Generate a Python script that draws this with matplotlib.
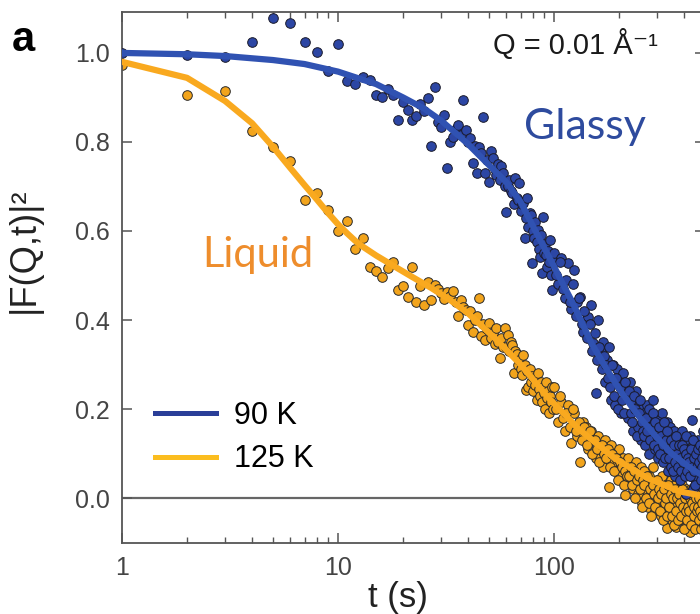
import numpy as np
import matplotlib
matplotlib.use("Agg")
from matplotlib import pyplot as plt
from matplotlib.lines import Line2D

plt.rcParams['font.family'] = ['Liberation Sans', 'DejaVu Sans']
plt.rcParams['mathtext.default'] = 'regular'

# 90 K (glassy) correlation points: t = 1..99 s, then two interleaved 4 s grids
blue_t = list(range(1, 100)) + list(range(100, 500, 4)) + list(range(102, 500, 4))
blue_v = [
    1.00, 0.995, 0.99, 1.025, 1.079, 1.067, 1.025, 1.002, 0.96, 1.02,
    0.937, 0.93, 0.945, 0.94, 0.906, 0.90, 0.92, 0.905, 0.85, 0.89,
    0.872, 0.849, 0.858, 0.885, 0.87, 0.899, 0.79, 0.924, 0.845, 0.834,
    0.86, 0.742, 0.80, 0.811, 0.83, 0.838, 0.815, 0.894, 0.827, 0.80,
    0.809, 0.753, 0.79, 0.73, 0.789, 0.775, 0.856, 0.73, 0.76, 0.71,
    0.78, 0.764, 0.74, 0.725, 0.75, 0.715, 0.745, 0.73, 0.70, 0.643,
    0.70, 0.715, 0.69, 0.685, 0.66, 0.72, 0.675, 0.67, 0.708, 0.645,
    0.66, 0.663, 0.584, 0.63, 0.674, 0.61, 0.64, 0.636, 0.528, 0.60,
    0.585, 0.62, 0.575, 0.602, 0.56, 0.542, 0.59, 0.506, 0.631, 0.55,
    0.57, 0.545, 0.52, 0.555, 0.53, 0.58, 0.50, 0.467, 0.54,
    # t = 100 .. 496
    0.55, 0.48, 0.539, 0.45, 0.528, 0.425, 0.512, 0.44, 0.452, 0.373,
    0.40, 0.407, 0.434, 0.348, 0.236, 0.40, 0.33, 0.35, 0.26, 0.31,
    0.339, 0.22, 0.30, 0.21, 0.29, 0.26, 0.19, 0.28, 0.24, 0.25,
    0.18, 0.26, 0.23, 0.15, 0.22, 0.24, 0.16, 0.21, 0.13, 0.20,
    0.19, 0.12, 0.21, 0.17, 0.10, 0.18, 0.14, 0.22, 0.11, 0.16,
    0.175, 0.09, 0.15, 0.13, 0.19, 0.08, 0.14, 0.12, 0.17, 0.06,
    0.13, 0.16, 0.07, 0.12, 0.10, 0.15, 0.05, 0.11, 0.14, 0.08,
    0.12, 0.04, 0.10, 0.15, 0.07, 0.09, 0.13, 0.01, 0.11, 0.08,
    0.10, 0.14, 0.05, 0.09, 0.175, 0.02, 0.12, 0.07, 0.11, 0.04,
    0.09, 0.13, 0.06, 0.10, 0.03, 0.12, 0.08, 0.15, 0.05, 0.10,
    # t = 102 .. 498
    0.50, 0.53, 0.47, 0.49, 0.44, 0.48, 0.41, 0.45, 0.39, 0.42,
    0.36, 0.39, 0.33, 0.37, 0.31, 0.34, 0.29, 0.32, 0.30, 0.27,
    0.25, 0.30, 0.23, 0.27, 0.20, 0.25, 0.22, 0.19, 0.26, 0.23,
    0.24, 0.19, 0.17, 0.23, 0.20, 0.14, 0.19, 0.22, 0.17, 0.15,
    0.14, 0.18, 0.15, 0.20, 0.13, 0.16, 0.19, 0.12, 0.17, 0.14,
    0.11, 0.16, 0.10, 0.14, 0.12, 0.17, 0.09, 0.13, 0.15, 0.11,
    0.09, 0.13, 0.11, 0.06, 0.12, 0.08, 0.14, 0.10, 0.07, 0.12,
    0.09, 0.06, 0.12, 0.08, 0.11, 0.05, 0.10, 0.14, 0.06, 0.09,
    0.08, 0.05, 0.11, 0.07, 0.13, 0.06, 0.09, 0.03, 0.10, 0.07,
    0.11, 0.06, 0.08, 0.12, 0.04, 0.09, 0.07, 0.11, 0.06, 0.08,
]

# 125 K (liquid) correlation points
yel_t = list(range(1, 100)) + list(range(100, 500, 4)) + list(range(102, 500, 4))
yel_v = [
    0.973, 0.905, 0.915, 0.825, 0.789, 0.757, 0.67, 0.685, 0.647, 0.60,
    0.623, 0.56, 0.585, 0.52, 0.51, 0.497, 0.517, 0.53, 0.467, 0.476,
    0.452, 0.52, 0.44, 0.476, 0.434, 0.486, 0.445, 0.479, 0.47, 0.46,
    0.447, 0.463, 0.455, 0.465, 0.44, 0.41, 0.445, 0.43, 0.422, 0.389,
    0.42, 0.373, 0.40, 0.41, 0.449, 0.364, 0.39, 0.355, 0.38, 0.393,
    0.36, 0.37, 0.345, 0.382, 0.35, 0.315, 0.36, 0.34, 0.382, 0.34,
    0.366, 0.33, 0.35, 0.344, 0.28, 0.33, 0.324, 0.30, 0.31, 0.29,
    0.276, 0.321, 0.30, 0.243, 0.285, 0.25, 0.29, 0.26, 0.275, 0.24,
    0.27, 0.255, 0.22, 0.28, 0.245, 0.23, 0.26, 0.215, 0.25, 0.235,
    0.20, 0.26, 0.225, 0.24, 0.19, 0.23, 0.215, 0.25, 0.20,
    # t = 100 .. 496
    0.25, 0.17, 0.216, 0.15, 0.21, 0.124, 0.19, 0.14, 0.08, 0.17,
    0.16, 0.11, 0.15, 0.13, 0.09, 0.14, 0.12, 0.07, 0.13, 0.10,
    0.025, 0.12, 0.08, 0.10, 0.06, 0.11, 0.05, 0.09, 0.007, 0.08,
    0.09, 0.04, 0.07, 0.02, 0.06, 0.08, 0.01, 0.05, 0.07, -0.01,
    0.06, 0.02, 0.04, -0.02, 0.05, 0.03, 0.00, 0.07, -0.03, 0.02,
    0.04, -0.01, 0.03, -0.04, 0.05, 0.01, -0.02, 0.03, -0.067, 0.00,
    0.02, -0.03, 0.04, -0.05, 0.01, -0.02, 0.03, -0.065, -0.01, 0.02,
    -0.04, 0.01, -0.02, 0.03, -0.05, 0.00, -0.03, 0.02, -0.06, -0.01,
    0.01, -0.076, -0.02, 0.02, -0.04, 0.00, -0.05, 0.03, -0.03, -0.01,
    -0.06, 0.01, -0.03, 0.02, -0.05, -0.01, 0.03, -0.04, 0.00, -0.02,
    # t = 102 .. 498
    0.20, 0.23, 0.18, 0.19, 0.16, 0.20, 0.15, 0.17, 0.13, 0.16,
    0.12, 0.15, 0.10, 0.13, 0.11, 0.08, 0.12, 0.10, 0.09, 0.11,
    0.07, 0.10, 0.06, 0.09, 0.04, 0.08, 0.07, 0.03, 0.06, 0.05,
    0.05, 0.07, 0.03, 0.06, 0.00, 0.04, 0.05, 0.02, -0.02, 0.04,
    0.03, 0.00, 0.05, -0.01, 0.02, -0.04, 0.03, 0.01, -0.02, 0.04,
    0.00, 0.02, -0.03, 0.01, -0.05, 0.02, -0.01, 0.00, -0.04, 0.03,
    -0.02, 0.01, -0.04, 0.00, -0.06, 0.02, -0.03, 0.00, -0.05, 0.01,
    -0.01, -0.04, 0.02, -0.02, -0.07, 0.00, -0.03, 0.01, -0.05, -0.02,
    -0.03, 0.00, -0.06, -0.01, 0.02, -0.04, -0.02, -0.07, 0.00, -0.03,
    -0.02, -0.05, 0.00, -0.03, -0.07, -0.01, -0.04, 0.01, -0.06, -0.02,
]

# fitted curves
blue_fit_t = [1, 2, 3, 5, 7, 10, 15, 20, 25, 30, 35, 40, 45, 50, 60, 70, 80, 90, 100, 110,
              120, 130, 150, 175, 200, 225, 250, 300, 350, 400, 450, 500]
blue_fit_v = [1.0, 0.997, 0.993, 0.984, 0.975, 0.958, 0.93, 0.90, 0.875, 0.848, 0.82, 0.795,
              0.77, 0.748, 0.71, 0.665, 0.61, 0.562, 0.52, 0.48, 0.445, 0.41, 0.345, 0.29,
              0.245, 0.21, 0.18, 0.135, 0.10, 0.078, 0.06, 0.048]
yel_fit_t = [1, 2, 3, 4, 5, 6, 7, 8, 9, 10, 11, 12, 13, 15, 18, 22, 27, 33, 40, 53,
             70, 93, 130, 190, 270, 380, 500]
yel_fit_v = [0.98, 0.944, 0.892, 0.842, 0.789, 0.742, 0.703, 0.67, 0.64, 0.615, 0.595,
             0.578, 0.565, 0.545, 0.522, 0.497, 0.472, 0.445, 0.415, 0.36, 0.30, 0.228,
             0.155, 0.09, 0.045, 0.015, 0.004]

fig = plt.figure(figsize=(7, 6.14), dpi=100)
ax = fig.add_axes([0.1743, 0.1156, 0.833, 0.8649])

ax.axhline(0, color='#666666', lw=1.6, zorder=1)
ax.scatter(yel_t, yel_v, s=48, color='#f2a41c', edgecolors='#2a2a2a', linewidths=0.7, zorder=2)
ax.scatter(blue_t, blue_v, s=48, color='#2c46a4', edgecolors='#1a1a2a', linewidths=0.7, zorder=3)
ax.plot(yel_fit_t, yel_fit_v, color='#f9a91f', lw=4.5, zorder=4)
ax.plot(blue_fit_t, blue_fit_v, color='#3052b2', lw=4.5, zorder=5)

ax.set_xscale('log')
ax.set_xlim(1, 500)
ax.set_ylim(-0.101, 1.092)
ax.set_yticks([0.0, 0.2, 0.4, 0.6, 0.8, 1.0])
ax.set_yticklabels(['0.0', '0.2', '0.4', '0.6', '0.8', '1.0'])
ax.set_xticks([1, 10, 100])
ax.set_xticklabels(['1', '10', '100'])

ax.tick_params(which='both', direction='in', top=True, right=True, colors='#555555',
               labelcolor='#444444', labelsize=18, pad=9)
ax.tick_params(which='major', length=7, width=1.1)
ax.tick_params(which='minor', length=4, width=1.0)
for sp in ax.spines.values():
    sp.set_color('#555555')
    sp.set_linewidth(1.3)

ax.set_xlabel('t (s)', fontsize=25, color='#222222')
ax.xaxis.set_label_coords(0.473, -0.072)
ax.set_ylabel('|F(Q,t)|²', fontsize=26, color='#222222')
ax.yaxis.set_label_coords(-0.138, 0.552)

handles = [Line2D([], [], color='#2a3e98', lw=3.6), Line2D([], [], color='#fbbd1f', lw=3.6)]
ax.legend(handles, ['90 K', '125 K'], loc='upper left', bbox_to_anchor=(0.056, 0.268),
          frameon=False, fontsize=22, handlelength=2.0, handletextpad=0.6,
          labelspacing=0.45, borderpad=0, borderaxespad=0)

ax.text(0.636, 0.92, 'Q = 0.01 Å⁻¹', transform=ax.transAxes, fontsize=21,
        color='#1a1a1a', va='baseline')
ax.text(0.69, 0.76, 'Glassy', transform=ax.transAxes, fontsize=31,
        color='#2e4b9e', family='Lato', va='baseline')
ax.text(0.138, 0.52, 'Liquid', transform=ax.transAxes, fontsize=30,
        color='#ee8d2c', family='Lato', va='baseline')

fig.text(0.017, 0.917, 'a', fontsize=30, fontweight='bold', color='black', va='baseline')

fig.savefig('out.png', dpi=100)
